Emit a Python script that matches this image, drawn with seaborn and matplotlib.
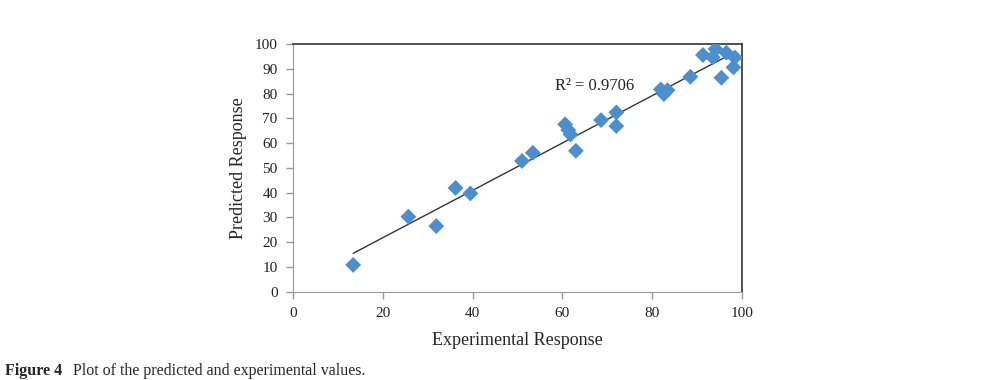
import numpy as np
import pandas as pd
import seaborn as sns
import matplotlib.pyplot as plt

sns.set_style('white')
plt.rcParams['font.family'] = ['Liberation Serif', 'DejaVu Serif']

experimental = [13.4, 25.7, 31.9, 36.2, 39.5, 51.0, 53.4, 60.6, 61.3, 61.8, 63.0, 68.6,
                72.0, 72.0, 81.9, 82.6, 83.4, 88.5, 91.3, 93.5, 94.1, 95.4, 96.5, 98.4, 98.1]
predicted = [10.8, 30.3, 26.5, 41.9, 39.7, 52.8, 56.1, 67.6, 65.3, 63.5, 56.9, 69.3,
             72.4, 66.9, 81.7, 79.8, 81.4, 86.8, 95.6, 94.6, 98.0, 86.4, 96.5, 94.6, 90.6]
r2_label = 'R\u00b2 = 0.9706'

df = pd.DataFrame({'exp': experimental, 'pred': predicted})

fig = plt.figure(figsize=(9.81, 3.80), dpi=100)
ax = fig.add_axes([0.2987, 0.2324, 0.4577, 0.6516])

sns.regplot(data=df, x='exp', y='pred', ax=ax, scatter=False, ci=None, truncate=True,
            line_kws={'color': '#333333', 'lw': 1.0})
sns.scatterplot(data=df, x='exp', y='pred', ax=ax, marker='D', s=65, color='#4a8fcf',
                edgecolor='none', zorder=3)

ax.set_xlim(0, 100)
ax.set_ylim(0, 100)
ax.set_xticks(range(0, 101, 20))
ax.set_yticks(range(0, 101, 10))
ax.tick_params(axis='both', bottom=True, left=True, labelsize=11, labelcolor='#222222',
               color='#999999', length=5, width=1, direction='out')
ax.tick_params(axis='y', pad=6)
ax.tick_params(axis='x', pad=6)
for side in ['left', 'bottom']:
    ax.spines[side].set_color('#999999')
for side in ['top', 'right']:
    ax.spines[side].set_color('#333333')
    ax.spines[side].set_linewidth(1.2)

ax.set_xlabel('Experimental Response', fontsize=13, labelpad=9)
ax.set_ylabel('Predicted Response', fontsize=13, labelpad=6)
ax.text(58.3, 83, r2_label, fontsize=12, va='center', ha='left')

fig.text(0.005, 0.013, 'Figure 4', fontsize=11.5, fontweight='bold', va='baseline')
fig.text(0.074, 0.013, 'Plot of the predicted and experimental values.', fontsize=11.5,
         va='baseline')

fig.savefig('out.png', dpi=100)
